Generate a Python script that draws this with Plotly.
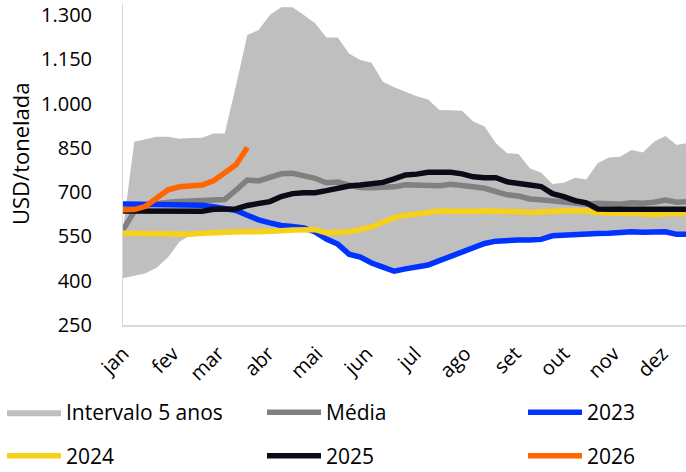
import plotly.graph_objects as go

# Weekly observations (week 1 .. 51), USD/tonelada
weeks = list(range(1, 52))

range_upper = [575, 871, 879, 888, 888, 881, 883, 884, 899, 899,
               1060, 1232, 1249, 1300, 1326, 1326, 1300, 1272, 1224, 1224,
               1170, 1148, 1138, 1074, 1055, 1040, 1025, 1014, 978, 977,
               976, 939, 922, 866, 832, 829, 781, 766, 728, 732,
               749, 743, 798, 817, 820, 843, 834, 871, 890, 860, 867]
range_lower = [408, 416, 425, 445, 480, 532, 555, 561, 563, 566,
               567, 567, 566, 566, 569, 572, 572, 565, 541, 524,
               490, 480, 460, 446, 432, 440, 447, 453, 468, 482,
               496, 512, 526, 534, 537, 538, 538, 540, 552, 555,
               555, 557, 560, 561, 565, 566, 564, 564, 566, 557, 557]
media = [572, 635, 656, 662, 666, 668, 670, 673, 677, 675,
         707, 741, 738, 750, 762, 764, 756, 747, 732, 734,
         724, 716, 715, 715, 718, 725, 724, 727, 722, 727,
         724, 718, 713, 703, 691, 687, 677, 674, 670, 664,
         660, 659, 662, 662, 659, 664, 662, 666, 673, 666, 668]
y2023 = [660, 660, 660, 659, 658, 657, 657, 656, 651, 645,
         638, 622, 606, 596, 587, 584, 579, 565, 541, 524,
         490, 480, 460, 446, 432, 440, 447, 453, 468, 482,
         496, 512, 526, 534, 537, 538, 538, 540, 552, 555,
         555, 557, 560, 561, 565, 566, 564, 564, 566, 557, 557]
y2024 = [561, 560, 558, 557, 556, 555, 557, 561, 563, 566,
         567, 567, 566, 566, 569, 572, 572, 573, 562, 564,
         566, 574, 582, 598, 613, 622, 626, 633, 636, 635,
         633, 635, 636, 636, 636, 634, 631, 634, 636, 636,
         636, 636, 630, 628, 628, 628, 628, 623, 627, 628, 628]
y2025 = [636, 636, 635, 635, 634, 633, 633, 635, 642, 642,
         643, 655, 660, 668, 685, 695, 698, 698, 705, 715,
         721, 724, 727, 733, 745, 758, 761, 767, 767, 767,
         762, 752, 749, 749, 735, 728, 724, 719, 695, 685,
         671, 664, 643, 642, 642, 642, 642, 642, 642, 642, 642]
y2026 = [640, 641, 652, 680, 708, 718, 723, 724, 738, 765, 793, 851]

month_labels = ["jan", "fev", "mar", "abr", "mai", "jun",
                "jul", "ago", "set", "out", "nov", "dez"]
month_start_day = [0, 31, 59, 90, 120, 151, 181, 212, 243, 273, 304, 334]
month_tick_pos = [1 + d / 7 for d in month_start_day]

y_tick_vals = [250, 400, 550, 700, 850, 1000, 1150, 1300]
y_tick_text = ["250", "400", "550", "700", "850", "1.000", "1.150", "1.300"]

BAND = "#BFBFBF"
C_MEDIA = "#808080"
C_2023 = "#0033FF"
C_2024 = "#F7D117"
C_2025 = "#0A0B17"
C_2026 = "#FF6600"
LW = 5.5
FONT = "Open Sans"

W, H = 686, 472
PLOT_LEFT, PLOT_RIGHT, PLOT_TOP, PLOT_BOTTOM = 123, 686, 3, 325   # page px
ML, MR = PLOT_LEFT, W - PLOT_RIGHT
MT, MB = PLOT_TOP, H - PLOT_BOTTOM
pw, ph = W - ML - MR, H - MT - MB
Y_PER_PX = 1050 / 310.0          # 250 -> 1.300 spans 310 px
WEEK_PX = 11.3
y_top = 250 + ph * Y_PER_PX


def px_x(px):
    return (px - PLOT_LEFT) / pw


def px_y(py):
    return (PLOT_BOTTOM - py) / ph


fig = go.Figure()
fig.add_trace(go.Scatter(x=weeks, y=range_lower, mode="lines",
                         line=dict(width=0, color=BAND), showlegend=False,
                         hoverinfo="skip"))
fig.add_trace(go.Scatter(x=weeks, y=range_upper, mode="lines", fill="tonexty",
                         fillcolor=BAND, line=dict(width=0, color=BAND),
                         name="Intervalo 5 anos", legend="legend"))
fig.add_trace(go.Scatter(x=weeks, y=media, mode="lines",
                         line=dict(width=LW, color=C_MEDIA),
                         name="Média", legend="legend2"))
fig.add_trace(go.Scatter(x=weeks, y=y2023, mode="lines",
                         line=dict(width=LW, color=C_2023),
                         name="2023", legend="legend3"))
fig.add_trace(go.Scatter(x=weeks, y=y2024, mode="lines",
                         line=dict(width=LW, color=C_2024),
                         name="2024", legend="legend4"))
fig.add_trace(go.Scatter(x=weeks, y=y2025, mode="lines",
                         line=dict(width=LW, color=C_2025),
                         name="2025", legend="legend5"))
fig.add_trace(go.Scatter(x=weeks[:len(y2026)], y=y2026, mode="lines",
                         line=dict(width=LW, color=C_2026),
                         name="2026", legend="legend6"))


def legend_at(px, py):
    return dict(orientation="h", xanchor="left", yanchor="middle",
                x=px_x(px), y=px_y(py), itemwidth=54,
                font=dict(family=FONT, size=21, color="#000000"),
                bgcolor="rgba(0,0,0,0)", borderwidth=0)


col_x = [2, 262, 523]
row_y = [412.5, 456]

fig.update_layout(
    width=W, height=H,
    margin=dict(l=ML, r=MR, t=MT, b=MB, pad=0, autoexpand=False),
    paper_bgcolor="white", plot_bgcolor="white",
    font=dict(family=FONT, size=20, color="#000000"),
    legend=legend_at(col_x[0], row_y[0]),
    legend2=legend_at(col_x[1], row_y[0]),
    legend3=legend_at(col_x[2], row_y[0]),
    legend4=legend_at(col_x[0], row_y[1]),
    legend5=legend_at(col_x[1], row_y[1]),
    legend6=legend_at(col_x[2], row_y[1]),
    xaxis=dict(range=[1, 1 + pw / WEEK_PX], tickvals=month_tick_pos,
               ticktext=month_labels, tickangle=-45, showgrid=False,
               zeroline=False, showline=True, linecolor="#D9D9D9", linewidth=2,
               ticks="outside", ticklen=7, tickcolor="rgba(0,0,0,0)",
               tickfont=dict(size=20), automargin=False),
    yaxis=dict(range=[250, y_top], tickvals=y_tick_vals, ticktext=y_tick_text,
               showgrid=False, zeroline=False, showline=True,
               linecolor="#D9D9D9", linewidth=1,
               ticks="outside", ticklen=26, tickcolor="rgba(0,0,0,0)",
               tickfont=dict(size=20), automargin=False,
               ticklabeloverflow="allow"),
    annotations=[dict(text="USD/tonelada", textangle=-90, xref="paper",
                      yref="paper", x=px_x(20), y=px_y(154), xanchor="center",
                      yanchor="middle", showarrow=False,
                      font=dict(family=FONT, size=22, color="#000000"))],
)

# Remove the browser's default 8px body margin so the figure fills the window.
fig.write_html("out.html", config={"displayModeBar": False},
               post_script="document.body.style.margin='0';")
